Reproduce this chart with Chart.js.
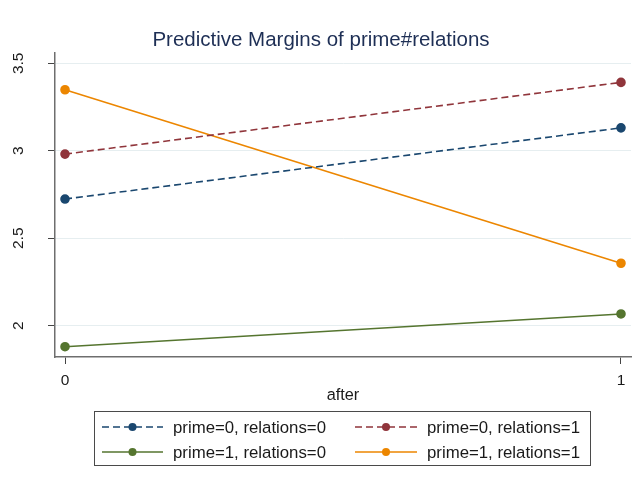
<!DOCTYPE html>
<html>
<head>
<meta charset="utf-8">
<script src="https://cdn.jsdelivr.net/npm/chart.js@4.4.1/dist/chart.umd.min.js"></script>
<style>
  html, body { margin: 0; padding: 0; background: #ffffff; }
  #wrap { width: 637px; height: 483px; }
</style>
</head>
<body>
<div id="wrap"><canvas id="c" width="637" height="483"></canvas></div>
<script>
// values of "after" on the x axis
const afterValues = [0, 1];
const xTickValues = [0, 1];
const yTickValues = [2, 2.5, 3, 3.5];

// predictive margins for each prime#relations cell
const prime0Rel0 = [2.724, 3.131];
const prime0Rel1 = [2.981, 3.391];
const prime1Rel0 = [1.880, 2.067];
const prime1Rel1 = [3.349, 2.357];

const seriesLabels = [
  'prime=0, relations=0',
  'prime=0, relations=1',
  'prime=1, relations=0',
  'prime=1, relations=1'
];

const FONT = '"Liberation Sans", Arial, Helvetica, sans-serif';

function pts(vals) {
  return vals.map((v, i) => ({ x: afterValues[i], y: v }));
}

function series(label, vals, color, dash) {
  return {
    label: label,
    data: pts(vals),
    borderColor: color,
    backgroundColor: color,
    pointBackgroundColor: color,
    pointBorderColor: color,
    borderWidth: 1.6,
    borderDash: dash,
    pointRadius: 4,
    pointHoverRadius: 4,
    tension: 0,
    fill: false
  };
}

// boxed two-column key below the plot, drawn from the dataset styles
const boxedKey = {
  id: 'boxedKey',
  afterDraw(chart) {
    const ctx = chart.ctx;
    const box = { x: 94.5, y: 411.5, w: 496, h: 54 };
    ctx.save();
    ctx.strokeStyle = '#4a4a4a';
    ctx.lineWidth = 1;
    ctx.strokeRect(box.x, box.y, box.w, box.h);
    const cols = [{ x0: 102, x1: 163, tx: 173 }, { x0: 355, x1: 417, tx: 427 }];
    const rows = [427, 452];
    chart.data.datasets.forEach((ds, i) => {
      const c = cols[i % 2];
      const y = rows[Math.floor(i / 2)];
      ctx.strokeStyle = ds.borderColor;
      ctx.lineWidth = ds.borderWidth;
      ctx.setLineDash(ds.borderDash || []);
      ctx.beginPath();
      ctx.moveTo(c.x0, y);
      ctx.lineTo(c.x1, y);
      ctx.stroke();
      ctx.setLineDash([]);
      ctx.fillStyle = ds.pointBackgroundColor;
      ctx.beginPath();
      ctx.arc((c.x0 + c.x1) / 2, y, 4, 0, Math.PI * 2);
      ctx.fill();
      ctx.fillStyle = '#1a1a1a';
      ctx.font = '16.8px ' + FONT;
      ctx.textAlign = 'left';
      ctx.textBaseline = 'middle';
      ctx.fillText(ds.label, c.tx, y + 1);
    });
    ctx.restore();
  }
};

new Chart(document.getElementById('c'), {
  type: 'line',
  data: {
    datasets: [
      series(seriesLabels[0], prime0Rel0, '#1a476f', [7, 4]),
      series(seriesLabels[1], prime0Rel1, '#90353b', [7, 4]),
      series(seriesLabels[2], prime1Rel0, '#55752f', []),
      series(seriesLabels[3], prime1Rel1, '#ec8600', [])
    ]
  },
  options: {
    responsive: false,
    animation: false,
    devicePixelRatio: 1,
    layout: { padding: { left: 11, right: 6, top: 0, bottom: 0 } },
    plugins: {
      legend: { display: false },
      tooltip: { enabled: false },
      title: {
        display: true,
        text: 'Predictive Margins of prime#relations',
        color: '#1e2f55',
        font: { family: FONT, size: 20.5, weight: 'normal', lineHeight: 1.2 },
        padding: { top: 28.2, bottom: 0.2 }
      }
    },
    scales: {
      x: {
        type: 'linear',
        min: -0.018,
        max: 1.018,
        afterBuildTicks(s) { s.ticks = xTickValues.map(v => ({ value: v })); },
        afterFit(s) { s.height = 126; },
        ticks: {
          color: '#1a1a1a',
          font: { family: FONT, size: 15.5 },
          padding: 7.5,
          maxRotation: 0,
          callback: v => String(v)
        },
        grid: {
          drawOnChartArea: false,
          drawTicks: true,
          tickLength: 7,
          tickColor: '#444444',
          lineWidth: 1
        },
        border: { display: true, color: '#6e6e6e', width: 1.5 },
        title: {
          display: true,
          text: 'after',
          color: '#1a1a1a',
          font: { family: FONT, size: 16.3, lineHeight: 1.2 },
          padding: { top: 0, bottom: 78 }
        }
      },
      y: {
        type: 'linear',
        min: 1.821,
        max: 3.559,
        afterBuildTicks(s) { s.ticks = yTickValues.map(v => ({ value: v })); },
        afterFit(s) { s.width = 44; },
        ticks: {
          color: '#1a1a1a',
          font: { family: FONT, size: 15.5 },
          minRotation: 90,
          maxRotation: 90,
          crossAlign: 'center',
          padding: 19,
          callback: v => String(v)
        },
        grid: {
          drawOnChartArea: true,
          drawTicks: true,
          tickLength: 7,
          color: '#e6eef0',
          tickColor: '#444444',
          lineWidth: 1
        },
        border: { display: true, color: '#6e6e6e', width: 1.5 }
      }
    }
  },
  plugins: [boxedKey]
});
</script>
</body>
</html>
